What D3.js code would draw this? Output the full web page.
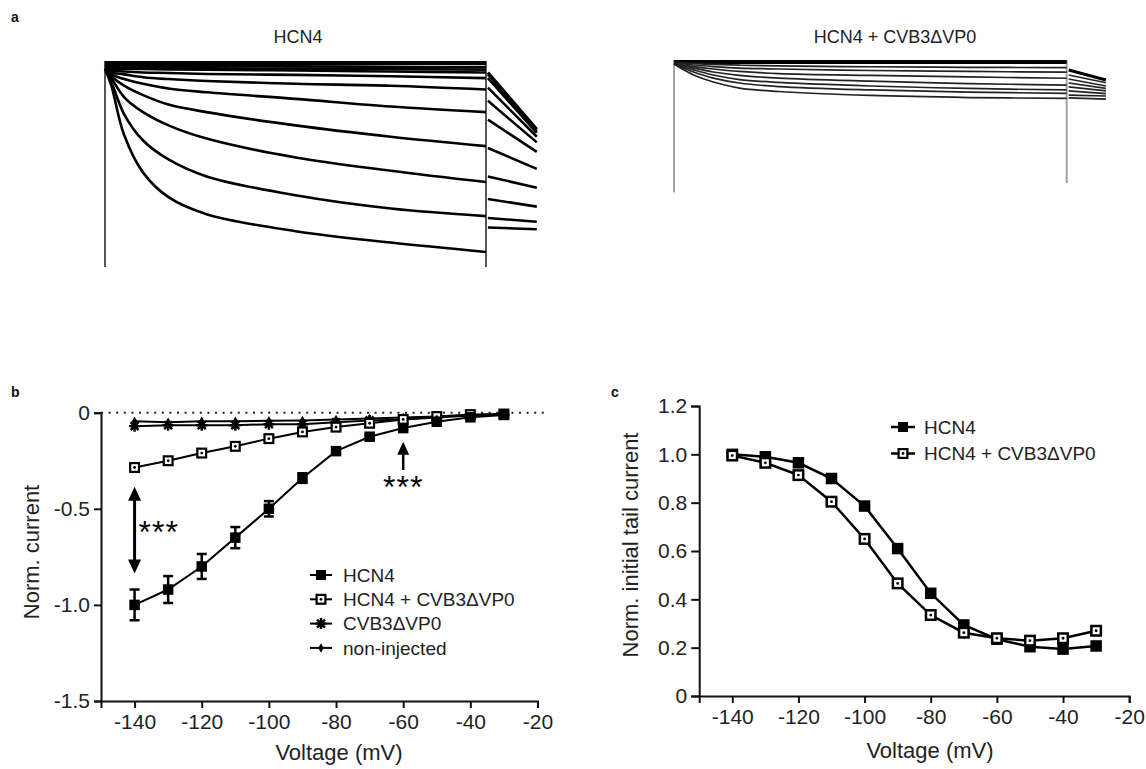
<!DOCTYPE html>
<html>
<head>
<meta charset="utf-8">
<script src="https://cdnjs.cloudflare.com/ajax/libs/d3/7.8.5/d3.min.js"></script>
<style>
body{margin:0;background:#fff;}
svg text{font-family:"Liberation Sans",Arial,sans-serif;fill:#222;}
.axis path,.axis line{stroke:#111;stroke-width:2;}
.axis text{font-size:21px;fill:#222;}
</style>
</head>
<body>
<script>
// ---- panel a : current traces, normalised, sampled at these times (ms)
var stepTimes = [0, 50, 150, 300, 500, 800, 1500, 2250, 3000];
var hcn4Traces = [
  [0, 0, 0, 0, 0, 0, 0, 0, 0],
  [-0.01, -0.012, -0.013, -0.014, -0.015, -0.016, -0.018, -0.02, -0.022],
  [-0.02, -0.022, -0.024, -0.025, -0.026, -0.028, -0.03, -0.032, -0.035],
  [-0.03, -0.03, -0.03, -0.032, -0.034, -0.036, -0.04, -0.045, -0.05],
  [-0.03, -0.04, -0.045, -0.05, -0.053, -0.058, -0.063, -0.07, -0.08],
  [-0.03, -0.05, -0.06, -0.075, -0.085, -0.095, -0.11, -0.12, -0.14],
  [-0.03, -0.06, -0.085, -0.11, -0.135, -0.155, -0.19, -0.23, -0.26],
  [-0.03, -0.07, -0.12, -0.17, -0.22, -0.26, -0.33, -0.39, -0.44],
  [-0.03, -0.08, -0.18, -0.26, -0.33, -0.40, -0.50, -0.57, -0.63],
  [-0.03, -0.10, -0.27, -0.41, -0.51, -0.60, -0.70, -0.77, -0.81],
  [-0.03, -0.12, -0.38, -0.58, -0.71, -0.80, -0.89, -0.95, -1.00]
];
var tailTimesA = [3015, 3400];
var hcn4Tails = [
  [-0.05, -0.35], [-0.06, -0.36], [-0.08, -0.37], [-0.13, -0.39],
  [-0.20, -0.42], [-0.30, -0.47], [-0.45, -0.56], [-0.60, -0.66],
  [-0.72, -0.76], [-0.82, -0.84], [-0.87, -0.88]
];
var hcn4Artifact = [-1.08, -1.08];

var cvbTraces = [
  [0, 0, 0, 0, 0, 0, 0, 0, 0],
  [-0.003, -0.005, -0.008, -0.013, -0.017, -0.021, -0.025, -0.028, -0.030],
  [-0.003, -0.008, -0.016, -0.024, -0.032, -0.037, -0.045, -0.050, -0.054],
  [-0.005, -0.013, -0.024, -0.037, -0.050, -0.061, -0.071, -0.079, -0.086],
  [-0.005, -0.016, -0.032, -0.053, -0.071, -0.085, -0.101, -0.114, -0.122],
  [-0.008, -0.021, -0.042, -0.069, -0.093, -0.108, -0.127, -0.140, -0.148],
  [-0.011, -0.026, -0.053, -0.085, -0.111, -0.130, -0.148, -0.159, -0.166],
  [-0.011, -0.032, -0.069, -0.106, -0.138, -0.156, -0.177, -0.188, -0.192]
];
var tailTimesB = [3015, 3300];
var cvbTails = [
  [-0.042, -0.095], [-0.069, -0.11], [-0.09, -0.127], [-0.111, -0.140],
  [-0.132, -0.153], [-0.153, -0.167], [-0.175, -0.18], [-0.19, -0.196]
];
var cvbArtifact = [-0.69, -0.64];

// ---- panel b : I-V relation
var voltages = [-140, -130, -120, -110, -100, -90, -80, -70, -60, -50, -40, -30];
var ivHcn4 = [-1.00, -0.92, -0.80, -0.65, -0.50, -0.34, -0.20, -0.125, -0.08, -0.047, -0.024, -0.012];
var ivHcn4Err = [0.08, 0.07, 0.065, 0.055, 0.04, 0.025, 0.015, 0.01, 0.008, 0.006, 0.005, 0.004];
var ivCoinj = [-0.285, -0.25, -0.21, -0.175, -0.135, -0.10, -0.075, -0.055, -0.035, -0.02, -0.01, -0.007];
var ivVirus = [-0.07, -0.065, -0.065, -0.065, -0.06, -0.06, -0.05, -0.04, -0.035, -0.025, -0.015, -0.01];
var ivNonInj = [-0.045, -0.05, -0.045, -0.045, -0.042, -0.04, -0.035, -0.03, -0.025, -0.02, -0.015, -0.01];
var ivTicksX = [-140, -120, -100, -80, -60, -40, -20];
var ivTicksY = [0, -0.5, -1.0, -1.5];
var ivLegend = ["HCN4", "HCN4 + CVB3\u0394VP0", "CVB3\u0394VP0", "non-injected"];

// ---- panel c : activation (initial tail current)
var actHcn4 = [1.00, 0.99, 0.965, 0.90, 0.786, 0.61, 0.425, 0.294, 0.235, 0.204, 0.194, 0.207];
var actCoinj = [0.995, 0.965, 0.914, 0.804, 0.65, 0.466, 0.335, 0.262, 0.239, 0.229, 0.239, 0.27];
var actTicksX = [-140, -120, -100, -80, -60, -40, -20];
var actTicksY = [0, 0.2, 0.4, 0.6, 0.8, 1.0, 1.2];
var actLegend = ["HCN4", "HCN4 + CVB3\u0394VP0"];

var svg = d3.select("body").append("svg")
    .attr("width", 1146)
    .attr("height", 769);

function label(txt, x, y) {
  svg.append("text").attr("x", x).attr("y", y)
    .style("font-size", "14px").style("font-weight", "bold").style("fill", "#111")
    .text(txt);
}
label("a", 11, 22);
label("b", 11, 397);
label("c", 611, 397);

// ================= panel a
function drawRecording(title, titleX, traces, tails, tailTimes, artifact, x, y, traceW, traceCol, artCol) {
  var g = svg.append("g");
  svg.append("text").attr("x", titleX).attr("y", 43)
    .attr("text-anchor", "middle").style("font-size", "18px").text(title);
  var line = d3.line()
    .x(function(d, i) { return x(stepTimes[i]); })
    .y(function(d) { return y(d); })
    .curve(d3.curveCatmullRom.alpha(0.5));
  // capacitive artefacts at step on/off
  g.selectAll(".art").data([0, 3000]).enter().append("line")
    .attr("x1", function(d) { return x(d); }).attr("x2", function(d) { return x(d); })
    .attr("y1", y(0.01))
    .attr("y2", function(d, i) { return y(artifact[i]); })
    .style("stroke", artCol).style("stroke-width", 1.8);
  g.selectAll(".tr").data(traces).enter().append("path")
    .attr("d", line)
    .style("fill", "none")
    .style("stroke", function(d, i) { return i === 0 ? "#000" : traceCol; })
    .style("stroke-width", function(d, i) { return i === 0 ? 4 : traceW; });
  g.selectAll(".tail").data(tails).enter().append("line")
    .attr("x1", x(tailTimes[0])).attr("x2", x(tailTimes[1]))
    .attr("y1", function(d) { return y(d[0]); })
    .attr("y2", function(d) { return y(d[1]); })
    .style("stroke", function(d, i) { return i === 0 ? "#000" : traceCol; })
    .style("stroke-width", function(d, i) { return i === 0 ? 3 : traceW; });
}

var xA = d3.scaleLinear().domain([0, 3000]).range([105, 486]);
var yA = d3.scaleLinear().domain([0, -1]).range([63, 252]);
drawRecording("HCN4", 298, hcn4Traces, hcn4Tails, tailTimesA, hcn4Artifact, xA, yA, 2.6, "#000", "#444");

var xA2 = d3.scaleLinear().domain([0, 3000]).range([674, 1066.7]);
var yA2 = d3.scaleLinear().domain([0, -1]).range([62, 251]);
drawRecording("HCN4 + CVB3\u0394VP0", 895, cvbTraces, cvbTails, tailTimesB, cvbArtifact, xA2, yA2, 1.7, "#222", "#999");

// ================= markers
function drawMarker(sel, type, s, sw) {
  if (type === "filled") {
    sel.append("rect").attr("x", -s / 2).attr("y", -s / 2).attr("width", s).attr("height", s)
      .style("fill", "#000");
  } else if (type === "open") {
    sel.append("rect").attr("x", -s / 2 + sw / 2).attr("y", -s / 2 + sw / 2)
      .attr("width", s - sw).attr("height", s - sw)
      .style("fill", "#fff").style("stroke", "#000").style("stroke-width", sw);
    sel.append("circle").attr("r", 1.4).style("fill", "#000");
  } else if (type === "star") {
    var r = s / 2, k = r * 0.72;
    sel.append("path")
      .attr("d", "M" + (-r) + ",0L" + r + ",0M0," + (-r) + "L0," + r +
        "M" + (-k) + "," + (-k) + "L" + k + "," + k + "M" + (-k) + "," + k + "L" + k + "," + (-k))
      .style("stroke", "#000").style("stroke-width", 2.4);
  } else {
    sel.append("path").attr("d", d3.symbol(d3.symbolDiamond, 26)())
      .style("fill", "#000");
  }
}

function drawSeries(g, xs, ys, x, y, type, s, sw, lw) {
  var line = d3.line()
    .x(function(d, i) { return x(xs[i]); })
    .y(function(d) { return y(d); });
  g.append("path").datum(ys).attr("d", line)
    .style("fill", "none").style("stroke", "#000").style("stroke-width", lw);
  g.selectAll(null).data(ys).enter().append("g")
    .attr("transform", function(d, i) { return "translate(" + x(xs[i]) + "," + y(d) + ")"; })
    .each(function() { drawMarker(d3.select(this), type, s, sw); });
}

function fmt(d) { return d === 0 ? "0" : d.toFixed(1); }

// ================= panel b
var xB = d3.scaleLinear().domain([-150, -20]).range([101, 537.5]);
var yB = d3.scaleLinear().domain([-1.5, 0]).range([701, 412.7]);
var gb = svg.append("g");

gb.append("line").attr("x1", xB(-150)).attr("x2", 545)
  .attr("y1", yB(0)).attr("y2", yB(0))
  .style("stroke", "#222").style("stroke-width", 2).style("stroke-dasharray", "2,5.6");

gb.append("g").attr("class", "axis").attr("transform", "translate(0," + yB(-1.5) + ")")
  .call(d3.axisBottom(xB).tickValues(ivTicksX).tickSizeOuter(0).tickSize(7).tickPadding(6)
    .tickFormat(function(d) { return String(d); }));
gb.append("g").attr("class", "axis").attr("transform", "translate(" + xB(-150) + ",0)")
  .call(d3.axisLeft(yB).tickValues(ivTicksY).tickSizeOuter(0).tickSize(7).tickPadding(4)
    .tickFormat(fmt));

// error bars
var eb = gb.selectAll(".eb").data(ivHcn4).enter().append("g")
  .attr("transform", function(d, i) { return "translate(" + xB(voltages[i]) + ",0)"; });
eb.append("line").attr("y1", function(d, i) { return yB(d - ivHcn4Err[i]); })
  .attr("y2", function(d, i) { return yB(d + ivHcn4Err[i]); })
  .style("stroke", "#000").style("stroke-width", 2.5);
eb.append("line").attr("x1", -5).attr("x2", 5)
  .attr("y1", function(d, i) { return yB(d - ivHcn4Err[i]); })
  .attr("y2", function(d, i) { return yB(d - ivHcn4Err[i]); })
  .style("stroke", "#000").style("stroke-width", 2.5);
eb.append("line").attr("x1", -5).attr("x2", 5)
  .attr("y1", function(d, i) { return yB(d + ivHcn4Err[i]); })
  .attr("y2", function(d, i) { return yB(d + ivHcn4Err[i]); })
  .style("stroke", "#000").style("stroke-width", 2.5);

drawSeries(gb, voltages, ivNonInj, xB, yB, "diamond", 8, 0, 2);
drawSeries(gb, voltages, ivVirus, xB, yB, "star", 11, 0, 2);
drawSeries(gb, voltages, ivCoinj, xB, yB, "open", 11, 2.2, 2);
drawSeries(gb, voltages, ivHcn4, xB, yB, "filled", 10.5, 0, 2);

// significance arrows
function arrowHead(g, x, y, dir, w, h) {
  g.append("path")
    .attr("d", "M" + x + "," + y + "L" + (x - w / 2) + "," + (y + dir * h) + "L" + (x + w / 2) + "," + (y + dir * h) + "Z")
    .style("fill", "#000");
}
var aTop = yB(-0.385), aBot = yB(-0.836), ax = xB(-140);
gb.append("line").attr("x1", ax).attr("x2", ax).attr("y1", aTop + 10).attr("y2", aBot - 10)
  .style("stroke", "#000").style("stroke-width", 3);
arrowHead(gb, ax, aTop, 1, 13, 14);
arrowHead(gb, ax, aBot, -1, 13, 14);
gb.append("text").attr("x", ax + 4).attr("y", 543).style("font-size", "32px")
  .style("letter-spacing", "1px").style("fill", "#000").text("***");

var bx = xB(-60), bTop = yB(-0.151), bBot = yB(-0.298);
gb.append("line").attr("x1", bx).attr("x2", bx).attr("y1", bTop + 10).attr("y2", bBot)
  .style("stroke", "#000").style("stroke-width", 2.5);
arrowHead(gb, bx, bTop, 1, 12, 13);
gb.append("text").attr("x", bx).attr("y", 498).attr("text-anchor", "middle").style("font-size", "32px")
  .style("letter-spacing", "1px").style("fill", "#000").text("***");

// titles
gb.append("text").attr("x", 339).attr("y", 760).attr("text-anchor", "middle")
  .style("font-size", "22px").text("Voltage (mV)");
gb.append("text").attr("transform", "translate(39,552) rotate(-90)").attr("text-anchor", "middle")
  .style("font-size", "22px").text("Norm. current");

// legend
var legTypes = ["filled", "open", "star", "diamond"];
var lgB = gb.selectAll(".lg").data(ivLegend).enter().append("g")
  .attr("transform", function(d, i) { return "translate(321," + (575 + i * 24.3) + ")"; });
lgB.append("line").attr("x1", -11).attr("x2", 11).style("stroke", "#000").style("stroke-width", 2);
lgB.each(function(d, i) {
  var s = [10, 11, 11, 8][i];
  drawMarker(d3.select(this), legTypes[i], s, 2.2);
});
lgB.append("text").attr("x", 22).attr("dy", "0.35em").style("font-size", "19px").text(function(d) { return d; });

// ================= panel c
var xC = d3.scaleLinear().domain([-150, -20]).range([699.2, 1129.2]);
var yC = d3.scaleLinear().domain([0, 1.2]).range([696, 406]);
var gc = svg.append("g");
gc.append("g").attr("class", "axis").attr("transform", "translate(0," + yC(0) + ")")
  .call(d3.axisBottom(xC).tickValues(actTicksX).tickSizeOuter(0).tickSize(7).tickPadding(6)
    .tickFormat(function(d) { return String(d); }));
gc.append("g").attr("class", "axis").attr("transform", "translate(" + xC(-150) + ",0)")
  .call(d3.axisLeft(yC).tickValues(actTicksY).tickSizeOuter(0).tickSize(8).tickPadding(4)
    .tickFormat(fmt));

drawSeries(gc, voltages, actHcn4, xC, yC, "filled", 11.5, 0, 2.5);
drawSeries(gc, voltages, actCoinj, xC, yC, "open", 12, 2.5, 2.5);

gc.append("text").attr("x", 930).attr("y", 758).attr("text-anchor", "middle")
  .style("font-size", "22px").text("Voltage (mV)");
gc.append("text").attr("transform", "translate(638,545) rotate(-90)").attr("text-anchor", "middle")
  .style("font-size", "22px").text("Norm. initial tail current");

var lgC = gc.selectAll(".lg").data(actLegend).enter().append("g")
  .attr("transform", function(d, i) { return "translate(903," + (427 + i * 26.5) + ")"; });
lgC.append("line").attr("x1", -12).attr("x2", 12).style("stroke", "#000").style("stroke-width", 2.5);
lgC.each(function(d, i) {
  drawMarker(d3.select(this), i === 0 ? "filled" : "open", i === 0 ? 10 : 11, 2.2);
});
lgC.append("text").attr("x", 21).attr("dy", "0.35em").style("font-size", "19px").text(function(d) { return d; });
</script>
</body>
</html>
